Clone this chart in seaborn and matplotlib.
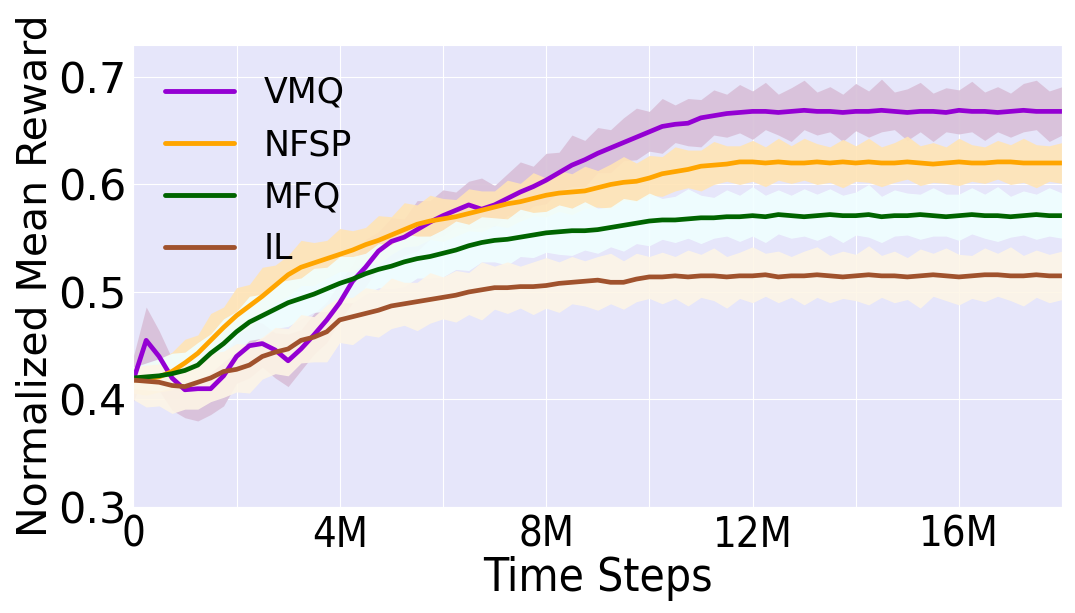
import numpy as np
import matplotlib
matplotlib.use("Agg")
import matplotlib.pyplot as plt
import seaborn as sns

# time axis in millions of steps, one sample every 0.25M
steps = np.arange(73) * 0.25

vmq_mean = [0.418, 0.455, 0.440, 0.420, 0.409, 0.410, 0.410, 0.422,
            0.440, 0.450, 0.452, 0.446, 0.436, 0.447, 0.460, 0.474,
            0.490, 0.510, 0.523, 0.538, 0.547, 0.551, 0.558, 0.565,
            0.571, 0.576, 0.581, 0.577, 0.581, 0.587, 0.593, 0.598,
            0.604, 0.611, 0.618, 0.623, 0.629, 0.634, 0.639, 0.644,
            0.649, 0.654, 0.656, 0.657, 0.662, 0.664, 0.666, 0.667,
            0.668, 0.668, 0.667, 0.668, 0.669, 0.668, 0.668, 0.667,
            0.668, 0.668, 0.669, 0.668, 0.667, 0.668, 0.668, 0.667,
            0.669, 0.668, 0.668, 0.667, 0.668, 0.669, 0.668, 0.668,
            0.668]
vmq_hi = [0.022, 0.031, 0.024, 0.018, 0.016, 0.020, 0.017, 0.021,
          0.018, 0.024, 0.019, 0.016, 0.025, 0.018, 0.020, 0.017,
          0.019, 0.016, 0.026, 0.018, 0.022, 0.017, 0.027, 0.020,
          0.024, 0.017, 0.022, 0.029, 0.018, 0.023, 0.028, 0.019,
          0.025, 0.019, 0.028, 0.018, 0.024, 0.017, 0.023, 0.027,
          0.019, 0.026, 0.018, 0.023, 0.017, 0.024, 0.018, 0.026,
          0.019, 0.027, 0.017, 0.022, 0.028, 0.018, 0.023, 0.017,
          0.026, 0.019, 0.029, 0.018, 0.022, 0.027, 0.017, 0.023,
          0.019, 0.028, 0.018, 0.024, 0.017, 0.025, 0.029, 0.019,
          0.023]
vmq_lo = [0.020, 0.028, 0.032, 0.030, 0.026, 0.030, 0.024, 0.028,
          0.025, 0.030, 0.022, 0.026, 0.024, 0.020, 0.018, 0.021,
          0.017, 0.020, 0.018, 0.016, 0.019, 0.017, 0.020, 0.016,
          0.019, 0.016, 0.023, 0.017, 0.020, 0.016, 0.024, 0.018,
          0.022, 0.017, 0.020, 0.025, 0.018, 0.023, 0.017, 0.021,
          0.018, 0.025, 0.017, 0.021, 0.027, 0.018, 0.022, 0.019,
          0.026, 0.017, 0.021, 0.028, 0.018, 0.022, 0.019, 0.027,
          0.018, 0.024, 0.020, 0.017, 0.026, 0.019, 0.028, 0.018,
          0.022, 0.019, 0.027, 0.018, 0.024, 0.020, 0.017, 0.028,
          0.022]

nfsp_mean = [0.418, 0.419, 0.421, 0.426, 0.434, 0.443, 0.455, 0.467,
             0.478, 0.487, 0.496, 0.506, 0.516, 0.523, 0.527, 0.531,
             0.535, 0.539, 0.544, 0.548, 0.553, 0.558, 0.563, 0.566,
             0.568, 0.570, 0.573, 0.576, 0.579, 0.582, 0.584, 0.587,
             0.590, 0.592, 0.593, 0.594, 0.597, 0.600, 0.602, 0.603,
             0.606, 0.610, 0.612, 0.614, 0.617, 0.618, 0.619, 0.621,
             0.621, 0.620, 0.621, 0.620, 0.620, 0.621, 0.620, 0.621,
             0.620, 0.621, 0.620, 0.620, 0.621, 0.620, 0.619, 0.620,
             0.621, 0.620, 0.620, 0.621, 0.621, 0.620, 0.620, 0.620,
             0.620]
nfsp_hi = [0.010, 0.014, 0.016, 0.018, 0.022, 0.017, 0.025, 0.019,
           0.026, 0.020, 0.027, 0.019, 0.018, 0.025, 0.019, 0.017,
           0.024, 0.018, 0.016, 0.023, 0.017, 0.025, 0.018, 0.024,
           0.019, 0.016, 0.023, 0.018, 0.015, 0.022, 0.017, 0.024,
           0.016, 0.021, 0.017, 0.023, 0.016, 0.019, 0.024, 0.017,
           0.021, 0.016, 0.023, 0.018, 0.015, 0.022, 0.017, 0.015,
           0.020, 0.015, 0.022, 0.016, 0.023, 0.017, 0.015, 0.021,
           0.016, 0.022, 0.015, 0.019, 0.024, 0.016, 0.020, 0.015,
           0.022, 0.017, 0.015, 0.020, 0.016, 0.023, 0.017, 0.016,
           0.019]
nfsp_lo = [0.012, 0.015, 0.014, 0.017, 0.015, 0.018, 0.016, 0.019,
           0.017, 0.021, 0.018, 0.016, 0.020, 0.017, 0.021, 0.018,
           0.016, 0.020, 0.017, 0.022, 0.018, 0.016, 0.020, 0.017,
           0.021, 0.018, 0.016, 0.020, 0.017, 0.022, 0.018, 0.016,
           0.020, 0.017, 0.021, 0.016, 0.018, 0.023, 0.017, 0.019,
           0.016, 0.021, 0.018, 0.017, 0.023, 0.018, 0.016, 0.021,
           0.018, 0.022, 0.017, 0.019, 0.016, 0.021, 0.018, 0.024,
           0.017, 0.019, 0.022, 0.018, 0.016, 0.021, 0.017, 0.019,
           0.022, 0.017, 0.019, 0.016, 0.021, 0.018, 0.023, 0.017,
           0.019]

mfq_mean = [0.420, 0.421, 0.422, 0.424, 0.427, 0.432, 0.443, 0.452,
            0.463, 0.472, 0.478, 0.484, 0.490, 0.494, 0.498, 0.503,
            0.508, 0.512, 0.517, 0.521, 0.524, 0.528, 0.531, 0.533,
            0.536, 0.539, 0.543, 0.546, 0.548, 0.549, 0.551, 0.553,
            0.555, 0.556, 0.557, 0.557, 0.558, 0.560, 0.562, 0.564,
            0.566, 0.567, 0.567, 0.568, 0.569, 0.569, 0.570, 0.570,
            0.571, 0.570, 0.572, 0.571, 0.570, 0.571, 0.572, 0.571,
            0.571, 0.572, 0.570, 0.571, 0.571, 0.572, 0.571, 0.570,
            0.571, 0.572, 0.571, 0.571, 0.570, 0.571, 0.572, 0.571,
            0.571]
mfq_hi = [0.010, 0.013, 0.016, 0.019, 0.017, 0.021, 0.018, 0.023,
          0.019, 0.024, 0.020, 0.025, 0.021, 0.019, 0.024, 0.020,
          0.025, 0.021, 0.019, 0.024, 0.020, 0.026, 0.021, 0.019,
          0.022, 0.027, 0.020, 0.024, 0.021, 0.019, 0.026, 0.021,
          0.020, 0.025, 0.021, 0.027, 0.020, 0.019, 0.025, 0.021,
          0.026, 0.020, 0.022, 0.028, 0.021, 0.019, 0.025, 0.020,
          0.027, 0.020, 0.023, 0.019, 0.026, 0.020, 0.024, 0.019,
          0.022, 0.028, 0.019, 0.024, 0.021, 0.019, 0.026, 0.021,
          0.020, 0.025, 0.020, 0.027, 0.019, 0.023, 0.019, 0.026,
          0.021]
mfq_lo = [0.010, 0.012, 0.014, 0.013, 0.016, 0.015, 0.018, 0.017,
          0.019, 0.017, 0.021, 0.018, 0.022, 0.019, 0.017, 0.021,
          0.018, 0.022, 0.019, 0.017, 0.021, 0.023, 0.018, 0.020,
          0.022, 0.018, 0.023, 0.018, 0.020, 0.024, 0.018, 0.021,
          0.018, 0.021, 0.023, 0.018, 0.022, 0.018, 0.024, 0.019,
          0.023, 0.018, 0.021, 0.018, 0.024, 0.019, 0.018, 0.023,
          0.019, 0.024, 0.018, 0.021, 0.018, 0.023, 0.019, 0.025,
          0.018, 0.021, 0.024, 0.019, 0.018, 0.023, 0.019, 0.018,
          0.023, 0.018, 0.021, 0.024, 0.019, 0.018, 0.023, 0.019,
          0.021]

il_mean = [0.418, 0.417, 0.416, 0.413, 0.412, 0.416, 0.420, 0.426,
           0.428, 0.432, 0.440, 0.444, 0.447, 0.455, 0.458, 0.463,
           0.474, 0.477, 0.480, 0.483, 0.487, 0.489, 0.491, 0.493,
           0.495, 0.497, 0.500, 0.502, 0.504, 0.504, 0.505, 0.505,
           0.506, 0.508, 0.509, 0.510, 0.511, 0.509, 0.509, 0.512,
           0.514, 0.514, 0.515, 0.514, 0.515, 0.515, 0.514, 0.515,
           0.515, 0.516, 0.514, 0.515, 0.515, 0.516, 0.515, 0.514,
           0.515, 0.516, 0.515, 0.515, 0.514, 0.515, 0.516, 0.515,
           0.514, 0.515, 0.516, 0.516, 0.515, 0.515, 0.516, 0.515,
           0.515]
il_hi = [0.012, 0.015, 0.017, 0.016, 0.020, 0.018, 0.023, 0.019,
         0.024, 0.019, 0.018, 0.023, 0.019, 0.024, 0.019, 0.025,
         0.021, 0.018, 0.024, 0.019, 0.026, 0.020, 0.018, 0.025,
         0.019, 0.023, 0.018, 0.026, 0.020, 0.024, 0.019, 0.023,
         0.026, 0.020, 0.024, 0.019, 0.022, 0.027, 0.020, 0.024,
         0.019, 0.023, 0.018, 0.025, 0.020, 0.026, 0.019, 0.022,
         0.027, 0.020, 0.024, 0.018, 0.023, 0.026, 0.019, 0.024,
         0.020, 0.027, 0.019, 0.023, 0.018, 0.025, 0.020, 0.026,
         0.021, 0.019, 0.025, 0.020, 0.027, 0.019, 0.023, 0.020,
         0.023]
il_lo = [0.018, 0.024, 0.022, 0.026, 0.021, 0.025, 0.022, 0.024,
         0.021, 0.026, 0.021, 0.020, 0.025, 0.021, 0.023, 0.028,
         0.021, 0.026, 0.020, 0.025, 0.021, 0.020, 0.027, 0.022,
         0.020, 0.025, 0.021, 0.028, 0.020, 0.024, 0.020, 0.026,
         0.021, 0.027, 0.020, 0.023, 0.028, 0.020, 0.025, 0.021,
         0.020, 0.025, 0.021, 0.027, 0.020, 0.023, 0.029, 0.021,
         0.025, 0.020, 0.024, 0.020, 0.027, 0.021, 0.025, 0.020,
         0.023, 0.028, 0.020, 0.025, 0.021, 0.030, 0.020, 0.023,
         0.026, 0.021, 0.025, 0.020, 0.023, 0.028, 0.021, 0.025,
         0.022]

series = [
    ("VMQ", vmq_mean, vmq_hi, vmq_lo, "darkviolet", "thistle"),
    ("NFSP", nfsp_mean, nfsp_hi, nfsp_lo, "orange", "moccasin"),
    ("MFQ", mfq_mean, mfq_hi, mfq_lo, "darkgreen", "azure"),
    ("IL", il_mean, il_hi, il_lo, "sienna", "oldlace"),
]

sns.set_style("darkgrid", {"axes.facecolor": "lavender", "grid.color": "white",
                           "text.color": "black", "axes.labelcolor": "black",
                           "xtick.color": "black", "ytick.color": "black"})

fig = plt.figure(figsize=(10.75, 6.13), dpi=100)
ax = fig.add_axes([0.124, 0.173, 0.864, 0.754])

# shaded bands first so every mean line sits on top
for name, mean, hi, lo, col, band in series:
    m = np.array(mean)
    ax.fill_between(steps, m - np.array(lo), m + np.array(hi),
                    color=band, alpha=0.9, linewidth=0)

for name, mean, hi, lo, col, band in series:
    sns.lineplot(x=steps, y=mean, ax=ax, color=col, linewidth=3.4, label=name)

ax.set_xlim(0, 18)
ax.set_ylim(0.3, 0.73)
ax.set_xticks(np.arange(0, 19, 2))
ax.set_xticklabels(["0" if t == 0 else (f"{t}M" if t % 4 == 0 else "")
                    for t in range(0, 19, 2)],
                   fontsize=30, fontstretch="condensed")
ax.set_yticks([0.3, 0.4, 0.5, 0.6, 0.7])
ax.set_yticklabels(["0.3", "0.4", "0.5", "0.6", "0.7"], fontsize=31)
ax.tick_params(axis="both", length=3, width=1, color="black", pad=2)
ax.set_xlabel("Time Steps", fontsize=33, fontstretch="condensed", labelpad=0)
ax.set_ylabel("Normalized Mean Reward", fontsize=29.5, labelpad=2)

leg = ax.legend(loc="upper left", fontsize=25, frameon=False,
                handlelength=2.0, handletextpad=0.85, labelspacing=0.52,
                borderaxespad=0.5)
for line in leg.get_lines():
    line.set_linewidth(3.5)

fig.savefig("out.png", dpi=100)
